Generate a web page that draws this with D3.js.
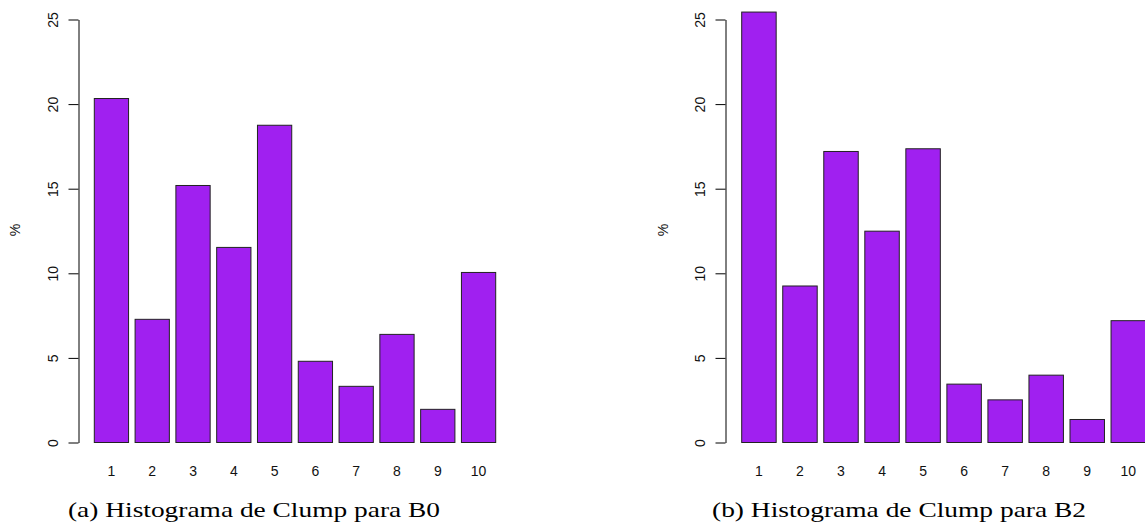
<!DOCTYPE html>
<html>
<head>
<meta charset="utf-8">
<script src="https://cdn.jsdelivr.net/npm/d3@7"></script>
<style>
  html, body { margin: 0; padding: 0; background: #fff; }
  svg { display: block; }
  .tick text { font-family: "Liberation Sans", Arial, sans-serif; font-size: 14px; fill: #111; }
</style>
</head>
<body>
<svg id="chart" width="1145" height="522"></svg>
<script>
// Clump thickness categories (1..10)
const categories = ["1", "2", "3", "4", "5", "6", "7", "8", "9", "10"];

// Percentage of samples per Clump value, group B0
const b0Percent = [20.33, 7.28, 15.19, 11.53, 18.75, 4.80, 3.32, 6.39, 1.96, 10.05];

// Percentage of samples per Clump value, group B2
const b2Percent = [25.44, 9.25, 17.20, 12.49, 17.36, 3.45, 2.52, 3.98, 1.36, 7.20];

// Y axis tick values
const yTicks = [0, 5, 10, 15, 20, 25];

// Captions under each panel
const captions = ["(a) Histograma de Clump para B0", "(b) Histograma de Clump para B2"];

const svg = d3.select("#chart");

const panels = [
  { values: b0Percent, axisX: 78.5, barRange: [94.3, 495.7], yLabelX: 20, caption: captions[0], capX: 68, capW: 372 },
  { values: b2Percent, axisX: 725.5, barRange: [741.7, 1145.5], yLabelX: 668, caption: captions[1], capX: 712, capW: 374 }
];

const y = d3.scaleLinear().domain([0, 25]).range([442.5, 19.5]);

panels.forEach(p => {
  const g = svg.append("g");

  const x = d3.scaleBand()
    .domain(categories)
    .range(p.barRange)
    .paddingInner(0.16)
    .paddingOuter(0);

  // bars
  g.selectAll("rect.bar")
    .data(p.values)
    .join("rect")
    .attr("class", "bar")
    .attr("x", (d, i) => x(categories[i]))
    .attr("width", x.bandwidth())
    .attr("y", d => y(d))
    .attr("height", d => y(0) - y(d))
    .attr("fill", "#A020F0")
    .attr("stroke", "#222")
    .attr("stroke-width", 1);

  // y axis, labels rotated to read upward
  const yAxis = g.append("g")
    .attr("transform", `translate(${p.axisX},0)`)
    .call(d3.axisLeft(y).tickValues(yTicks).tickSize(10).tickSizeOuter(0).tickFormat(d3.format("d")));
  yAxis.select(".domain").attr("stroke", "#000");
  yAxis.selectAll(".tick line").attr("stroke", "#000");
  yAxis.selectAll(".tick text")
    .attr("transform", "rotate(-90)")
    .attr("x", 0)
    .attr("y", -21)
    .attr("dy", 0)
    .attr("text-anchor", "middle");

  // category labels below the bars (no axis line)
  const xAxis = g.append("g")
    .attr("transform", "translate(0,476)")
    .call(d3.axisBottom(x).tickSize(0).tickPadding(0));
  xAxis.select(".domain").remove();
  xAxis.selectAll(".tick text").attr("y", 0).attr("dy", 0);

  // y axis title
  g.append("text")
    .attr("transform", `translate(${p.yLabelX},230) rotate(-90)`)
    .attr("text-anchor", "middle")
    .attr("font-family", "Liberation Sans, Arial, sans-serif")
    .attr("font-size", 14)
    .attr("fill", "#111")
    .text("%");

  // caption
  g.append("text")
    .attr("x", p.capX)
    .attr("y", 517)
    .attr("font-family", "Liberation Serif, 'Times New Roman', serif")
    .attr("font-size", 22)
    .attr("fill", "#000")
    .attr("textLength", p.capW)
    .attr("lengthAdjust", "spacingAndGlyphs")
    .text(p.caption);
});
</script>
</body>
</html>
